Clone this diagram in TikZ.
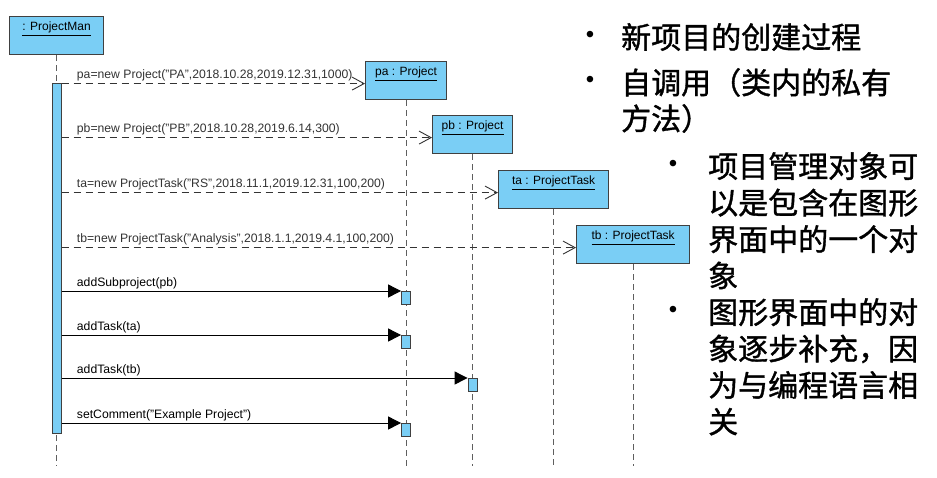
\documentclass[tikz,border=0pt]{standalone}
\usepackage{fontspec}
\setmainfont{Liberation Sans}
\newfontfamily\cjk[FakeBold=1.2]{Noto Sans CJK SC}
\usepackage{tikz}
\usetikzlibrary{calc,arrows.meta}
\definecolor{objblue}{RGB}{122,206,245}
\definecolor{lineg}{RGB}{95,95,95}
\tikzstyle{obj} = [draw=black!75,line width=1.2pt,fill=objblue,anchor=north west,minimum height=38pt,inner sep=0pt]
\tikzstyle{olabel} = [anchor=north,inner sep=0pt,yshift=-6pt,font=\fontsize{12}{14}\selectfont]
\tikzstyle{lifeline} = [lineg,line width=1.2pt,dash pattern=on 6pt off 4pt]
\tikzstyle{act} = [draw=black!75,line width=1pt,fill=objblue,minimum width=9pt,inner sep=0pt,anchor=north]
\tikzstyle{create} = [black!80,line width=0.9pt,dash pattern=on 7pt off 5pt,-{Straight Barb[length=12pt,width=13pt,line width=0.9pt]}]
\tikzstyle{call} = [black,line width=0.9pt,-{Triangle[length=13pt,width=13pt]}]
\tikzstyle{msg} = [pos=0,anchor=south west,xshift=13pt,inner sep=2pt,font=\fontsize{12.2}{14}\selectfont]
\tikzstyle{big} = [anchor=north west,align=left,inner sep=0pt,font=\cjk\fontsize{30}{36}\selectfont]
\tikzstyle{dot} = [inner sep=0pt,font=\fontsize{24}{24}\selectfont]

\begin{document}
\begin{tikzpicture}[x=1pt,y=-1pt]
            \useasboundingbox (0,0) rectangle (937,477);
            % objects
            \node[obj,minimum width=94pt,label={[olabel]north:\underline{: ProjectMan}}] (pm) at (9,16) {};
            \node[obj,minimum width=81pt,label={[olabel]north:\underline{pa : Project}}] (pa) at (365,61) {};
            \node[obj,minimum width=80pt,label={[olabel]north:\underline{pb : Project}}] (pb) at (432,115) {};
            \node[obj,minimum width=110pt,label={[olabel]north:\underline{ta : ProjectTask}}] (ta) at (498,170) {};
            \node[obj,minimum width=113pt,label={[olabel]north:\underline{tb : ProjectTask}}] (tb) at (576,225) {};

            % lifelines
            \coordinate (end) at (0,466);
            \foreach \o in {pm,pa,pb,ta,tb}
                \draw[lifeline] (\o.south) -- (\o.south |- end);

            % activation of ProjectMan
            \node[act,minimum height=350pt] (act) at (56.5,83) {};

            % creation messages
            \coordinate (pain) at ($(pa.west)+(0,3)$);
            \coordinate (pbin) at ($(pb.west)+(0,3)$);
            \coordinate (tain) at ($(ta.west)+(0,3)$);
            \coordinate (tbin) at ($(tb.west)+(0,3)$);
            \draw[create] (act.east |- pain) -- (pain) node[msg] {pa=new Project("PA",2018.10.28,2019.12.31,1000)};
            \draw[create] (act.east |- pbin) -- (pbin) node[msg] {pb=new Project("PB",2018.10.28,2019.6.14,300)};
            \draw[create] (act.east |- tain) -- (tain) node[msg] {ta=new ProjectTask("RS",2018.11.1,2019.12.31,100,200)};
            \draw[create] (act.east |- tbin) -- (tbin) node[msg] {tb=new ProjectTask("Analysis",2018.1.1,2019.4.1,100,200)};

            % calls
            \coordinate (y1) at (0,291);
            \coordinate (y2) at (0,335);
            \coordinate (y3) at (0,378);
            \coordinate (y4) at (0,423);
            \node[act,minimum height=13pt] (s1) at (pa.south |- y1) {};
            \node[act,minimum height=13pt] (s2) at (pa.south |- y2) {};
            \node[act,minimum height=13pt] (s3) at (pb.south |- y3) {};
            \node[act,minimum height=13pt] (s4) at (pa.south |- y4) {};
            \draw[call] (act.east |- s1.north west) -- (s1.north west) node[msg] {addSubproject(pb)};
            \draw[call] (act.east |- s2.north west) -- (s2.north west) node[msg] {addTask(ta)};
            \draw[call] (act.east |- s3.north west) -- (s3.north west) node[msg] {addTask(tb)};
            \draw[call] (act.east |- s4.north west) -- (s4.north west) node[msg] {setComment("Example Project")};

            % notes
            \node[big] (n1) at (621,23) {新项目的创建过程};
            \node[big] (n2) at (621,68) {自调用（类内的私有\\方法）};
            \node[big,font=\cjk\fontsize{30}{36.5}\selectfont] (n3) at (708,152) {项目管理对象可\\以是包含在图形\\界面中的一个对\\象};
            \node[big,font=\cjk\fontsize{30}{36.5}\selectfont] (n4) at (708,298) {图形界面中的对\\象逐步补充，因\\为与编程语言相\\关};
            \node[dot] at (590,37) {\textbullet};
            \node[dot] at (590,82) {\textbullet};
            \node[dot] at (673,166) {\textbullet};
            \node[dot] at (673,312) {\textbullet};
        \end{tikzpicture}
\end{document}
